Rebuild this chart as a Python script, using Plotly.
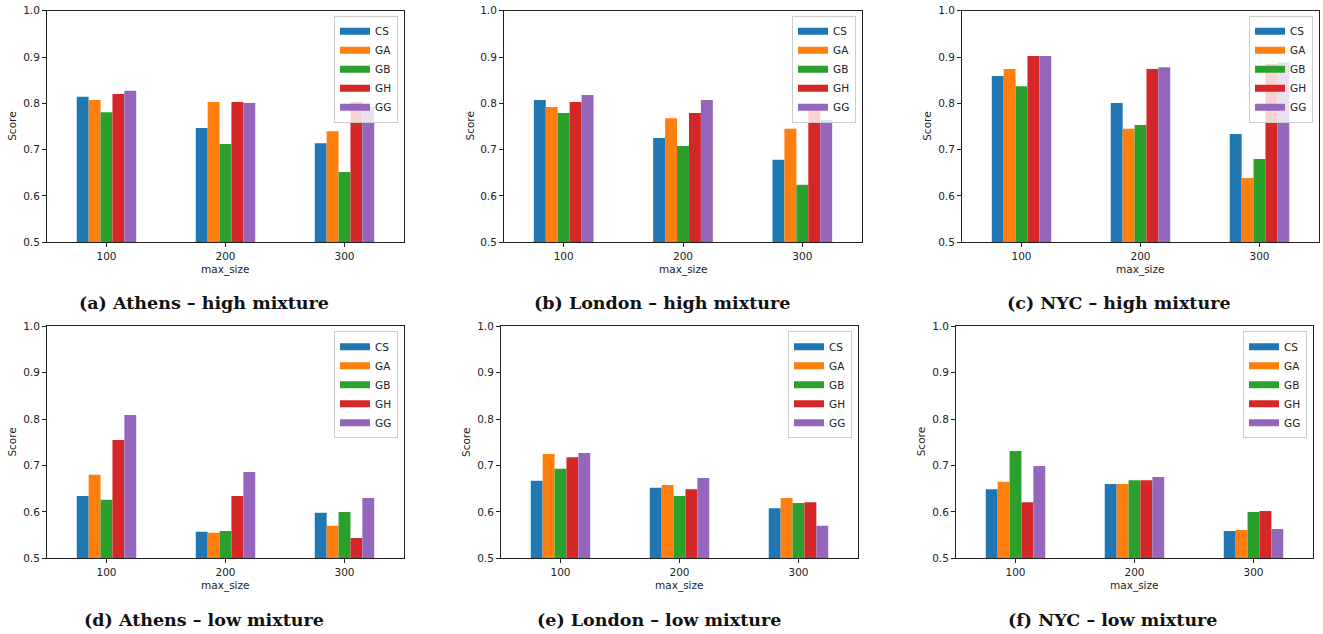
import plotly.graph_objects as go

# ---------------- data ----------------
categories = ["100", "200", "300"]
methods = ["CS", "GA", "GB", "GH", "GG"]
colors = ["#1f77b4", "#ff7f0e", "#2ca02c", "#d62728", "#9467bd"]

athens_high_CS = [0.814, 0.747, 0.714]
athens_high_GA = [0.807, 0.803, 0.740]
athens_high_GB = [0.781, 0.712, 0.652]
athens_high_GH = [0.820, 0.803, 0.803]
athens_high_GG = [0.827, 0.801, 0.792]

london_high_CS = [0.807, 0.725, 0.678]
london_high_GA = [0.792, 0.768, 0.745]
london_high_GB = [0.779, 0.708, 0.624]
london_high_GH = [0.803, 0.779, 0.792]
london_high_GG = [0.818, 0.807, 0.764]

nyc_high_CS = [0.859, 0.801, 0.734]
nyc_high_GA = [0.874, 0.745, 0.639]
nyc_high_GB = [0.837, 0.753, 0.680]
nyc_high_GH = [0.902, 0.874, 0.885]
nyc_high_GG = [0.902, 0.878, 0.888]

athens_low_CS = [0.634, 0.557, 0.598]
athens_low_GA = [0.680, 0.555, 0.570]
athens_low_GB = [0.626, 0.559, 0.600]
athens_low_GH = [0.755, 0.634, 0.544]
athens_low_GG = [0.809, 0.686, 0.630]

london_low_CS = [0.667, 0.652, 0.608]
london_low_GA = [0.725, 0.658, 0.630]
london_low_GB = [0.693, 0.634, 0.619]
london_low_GH = [0.718, 0.649, 0.621]
london_low_GG = [0.727, 0.673, 0.570]

nyc_low_CS = [0.649, 0.660, 0.559]
nyc_low_GA = [0.665, 0.660, 0.561]
nyc_low_GB = [0.731, 0.668, 0.600]
nyc_low_GH = [0.621, 0.668, 0.602]
nyc_low_GG = [0.699, 0.675, 0.563]

captions = [
    "(a) Athens – high mixture",
    "(b) London – high mixture",
    "(c) NYC – high mixture",
    "(d) Athens – low mixture",
    "(e) London – low mixture",
    "(f) NYC – low mixture",
]
panel_series = [
    [athens_high_CS, athens_high_GA, athens_high_GB, athens_high_GH, athens_high_GG],
    [london_high_CS, london_high_GA, london_high_GB, london_high_GH, london_high_GG],
    [nyc_high_CS, nyc_high_GA, nyc_high_GB, nyc_high_GH, nyc_high_GG],
    [athens_low_CS, athens_low_GA, athens_low_GB, athens_low_GH, athens_low_GG],
    [london_low_CS, london_low_GA, london_low_GB, london_low_GH, london_low_GG],
    [nyc_low_CS, nyc_low_GA, nyc_low_GB, nyc_low_GH, nyc_low_GG],
]

# ---------------- geometry (pixels) ----------------
W, H = 1323, 634
axes_px = [
    (47, 404, 10.7, 242.3), (504, 862, 10.7, 242.3), (962, 1319, 10.7, 242.3),
    (47, 404, 326.3, 558.3), (501, 858, 326.3, 558.3), (956, 1313, 326.3, 558.3),
]
caption_x = [204, 661.5, 1119, 204, 658.5, 1112.5]
caption_y = [303.3, 303.3, 303.3, 620, 620, 620]
xlabel_y = [269.3, 269.3, 269.3, 585.3, 585.3, 585.3]
ylabel_x = [12.3, 470, 927.3, 12.3, 466.7, 921]

TICKFONT = dict(family="DejaVu Sans", size=10.5, color="#222")

fig = go.Figure()
layout = dict(
    template="none",
    width=W, height=H,
    margin=dict(l=0, r=0, t=0, b=0, autoexpand=False),
    paper_bgcolor="white", plot_bgcolor="white",
    barmode="group", bargap=0.5, bargroupgap=0,
    font=dict(family="DejaVu Sans", size=10, color="#222"),
    annotations=[],
)

for p, series in enumerate(panel_series):
    k = p + 1
    xa = "x" if k == 1 else f"x{k}"
    ya = "y" if k == 1 else f"y{k}"
    lg = "legend" if k == 1 else f"legend{k}"
    for m, vals in enumerate(series):
        fig.add_trace(go.Bar(
            x=categories, y=vals, name=methods[m],
            marker=dict(color=colors[m], line=dict(width=0)),
            xaxis=xa, yaxis=ya, showlegend=False,
        ))
        # legend handle (matplotlib-like wide patch)
        fig.add_trace(go.Scatter(
            x=[None], y=[None], mode="lines", name=methods[m],
            line=dict(color=colors[m], width=7),
            xaxis=xa, yaxis=ya, legend=lg, showlegend=True,
            hoverinfo="skip",
        ))
    l, r, t, b = axes_px[p]
    xdom = [l / W, r / W]
    ydom = [1 - b / H, 1 - t / H]
    axis_common = dict(
        showline=True, linecolor="#222", linewidth=1, mirror=True,
        showgrid=False, zeroline=False, ticks="outside", ticklen=4,
        tickwidth=1, tickcolor="#222", tickfont=TICKFONT, automargin=False,
    )
    layout["xaxis" if k == 1 else f"xaxis{k}"] = dict(
        domain=xdom, anchor=ya, type="category",
        categoryorder="array", categoryarray=categories,
        range=[-0.5, 2.5], **axis_common,
    )
    layout["yaxis" if k == 1 else f"yaxis{k}"] = dict(
        domain=ydom, anchor=xa, range=[0.5, 1.0], dtick=0.1,
        tick0=0.5, tickformat=".1f", **axis_common,
    )
    layout[lg] = dict(
        x=(r - 6) / W, y=1 - (t + 5) / H, xanchor="right", yanchor="top",
        xref="paper", yref="paper",
        bgcolor="rgba(255,255,255,0.8)", bordercolor="#cccccc", borderwidth=1,
        font=dict(family="DejaVu Sans", size=10.5, color="#222"),
        itemwidth=30, tracegroupgap=0,
    )
    layout["annotations"].append(dict(
        text="max_size", x=(l + r) / 2 / W, y=1 - xlabel_y[p] / H,
        xref="paper", yref="paper", xanchor="center", yanchor="middle",
        showarrow=False, font=dict(family="DejaVu Sans", size=10.5, color="#222"),
    ))
    layout["annotations"].append(dict(
        text="Score", x=ylabel_x[p] / W, y=1 - (t + b) / 2 / H,
        xref="paper", yref="paper", xanchor="center", yanchor="middle",
        textangle=-90, showarrow=False,
        font=dict(family="DejaVu Sans", size=10.5, color="#222"),
    ))
    layout["annotations"].append(dict(
        text=f"<b>{captions[p]}</b>", x=caption_x[p] / W, y=1 - caption_y[p] / H,
        xref="paper", yref="paper", xanchor="center", yanchor="middle",
        showarrow=False,
        font=dict(family="DejaVu Serif", size=17.5, color="#111"),
    ))

fig.update_layout(**layout)
fig.write_html(
    "out.html",
    config={"displayModeBar": False},
    post_script="document.body.style.margin='0';document.body.style.overflow='hidden';",
)
